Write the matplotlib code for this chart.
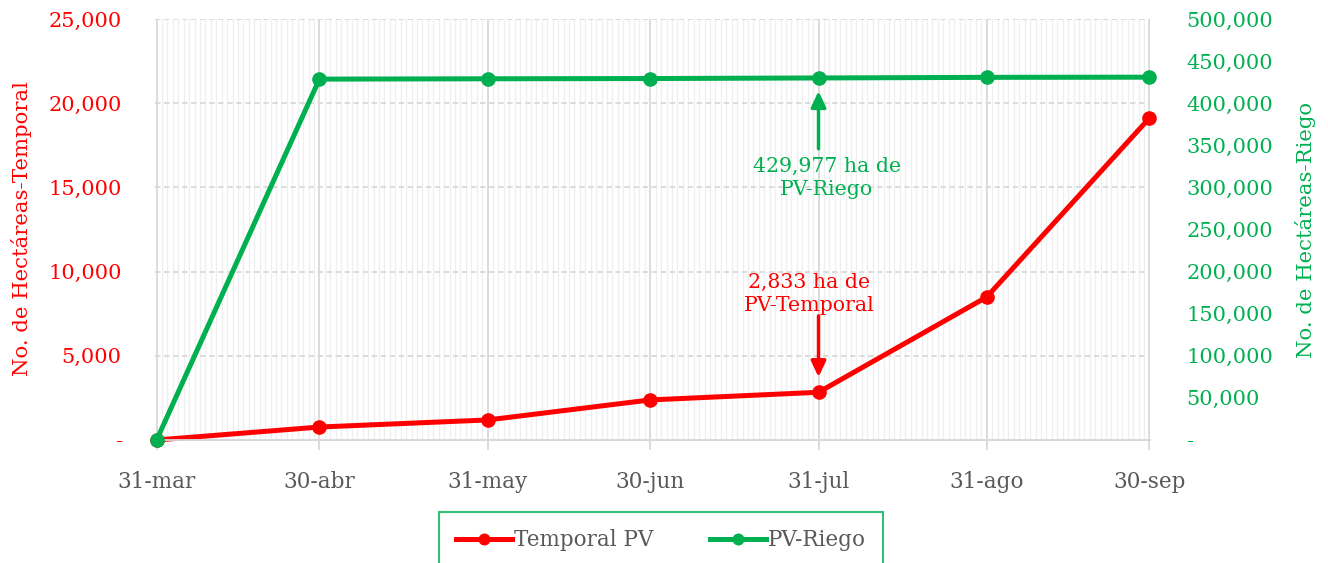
"""Hectáreas de PV: temporal vs riego (dual axis timeline)."""
import datetime as dt

import matplotlib
matplotlib.use('Agg')
import matplotlib.pyplot as plt
import matplotlib.dates as mdates
from matplotlib.ticker import FuncFormatter, MultipleLocator

plt.rcParams['font.family'] = ['DejaVu Serif']

dates = ['2023-03-31', '2023-04-30', '2023-05-31', '2023-06-30',
         '2023-07-31', '2023-08-31', '2023-09-30']
date_labels = ['31-mar', '30-abr', '31-may', '30-jun', '31-jul', '31-ago', '30-sep']
temporal = [0, 770, 1190, 2380, 2833, 8490, 19120]
riego = [0, 428600, 429000, 429300, 429977, 430700, 430900]

RED = '#FF0000'
GREEN = '#00B050'
GRAY = '#595959'

x = [dt.datetime.strptime(d, '%Y-%m-%d') for d in dates]


def fmt(v, _pos):
    """Excel accounting-like format."""
    return '-' if v == 0 else f'{v:,.0f}'


fig = plt.figure(figsize=(13.28, 5.63), dpi=100)
ax = fig.add_axes([155 / 1328, 1 - 440 / 563, 995 / 1328, 421 / 563])
ax2 = ax.twinx()

# grid: daily minor lines, monthly major lines, dashed horizontals
ax.xaxis.set_minor_locator(mdates.DayLocator())
ax.set_xticks(x)
ax.set_xticklabels(date_labels)
ax.grid(which='minor', axis='x', color='#efefef', lw=0.9)
ax.grid(which='major', axis='x', color='#d9d9d9', lw=1.3)
ax.grid(which='major', axis='y', color='#d9d9d9', lw=1.3, ls=(0, (3, 2)))
ax.set_axisbelow(True)

ax.set_xlim(x[0] - dt.timedelta(days=0.3), x[-1] + dt.timedelta(days=0.1))
ax.set_ylim(0, 25000)
ax2.set_ylim(0, 500000)
ax.yaxis.set_major_locator(MultipleLocator(5000))
ax2.yaxis.set_major_locator(MultipleLocator(50000))
ax.yaxis.set_major_formatter(FuncFormatter(fmt))
ax2.yaxis.set_major_formatter(FuncFormatter(fmt))

for a in (ax, ax2):
    for side in ('top', 'left', 'right'):
        a.spines[side].set_visible(False)
    a.spines['bottom'].set_color('#d9d9d9')
    a.spines['bottom'].set_linewidth(1.3)

ax.tick_params(axis='x', which='major', length=7, color='#d9d9d9', width=1.3,
               labelsize=15.5, labelcolor=GRAY, pad=15)
ax.tick_params(axis='x', which='minor', length=0)
ax.tick_params(axis='y', length=0, labelsize=15, labelcolor=RED, pad=24)
ax2.tick_params(axis='y', length=0, labelsize=15, labelcolor=GREEN, pad=26)

l1, = ax.plot(x, temporal, color=RED, lw=3.6, marker='o', ms=9.5,
              label='Temporal PV', clip_on=False, zorder=3)
l2, = ax2.plot(x, riego, color=GREEN, lw=3.6, marker='o', ms=9.5,
               label='PV-Riego', clip_on=False, zorder=3)

fig.text(22 / 1328, 1 - 229 / 563, 'No. de Hectáreas-Temporal', color=RED,
         fontsize=15.3, rotation=90, ha='center', va='center')
fig.text(1305 / 1328, 1 - 230 / 563, 'No. de Hectáreas-Riego', color=GREEN,
         fontsize=15.3, rotation=90, ha='center', va='center')

# annotations
arrow = '-|>,head_width=0.45,head_length=0.95'
ax2.annotate('', xy=(x[4], riego[4]), xytext=(0, -51), textcoords='offset points',
             arrowprops=dict(arrowstyle=arrow, color=GREEN, lw=2.5,
                             shrinkA=0, shrinkB=9.5))
ax2.annotate('429,977 ha de\nPV-Riego', xy=(x[4], riego[4]), xytext=(6, -72),
             textcoords='offset points', ha='center', va='center',
             color=GREEN, fontsize=14.8, linespacing=1.25)
ax.annotate('', xy=(x[4], temporal[4]), xytext=(0, 55), textcoords='offset points',
            arrowprops=dict(arrowstyle=arrow, color=RED, lw=2.5,
                            shrinkA=0, shrinkB=11))
ax.annotate('2,833 ha de\nPV-Temporal', xy=(x[4], temporal[4]), xytext=(-7, 71),
            textcoords='offset points', ha='center', va='center',
            color=RED, fontsize=14.8, linespacing=1.25)

leg = fig.legend(handles=[l1, l2], loc='upper center',
                 bbox_to_anchor=(661 / 1328, 1 - 512 / 563), ncol=2,
                 fontsize=15.5, frameon=True, fancybox=False, borderpad=0.8,
                 handlelength=2.6, handletextpad=0.1, columnspacing=2.6,
                 borderaxespad=0, markerscale=0.8)
leg.get_frame().set_edgecolor(GREEN)
leg.get_frame().set_linewidth(1.5)
for t in leg.get_texts():
    t.set_color(GRAY)

fig.savefig('out.png', dpi=100)
plt.close(fig)
